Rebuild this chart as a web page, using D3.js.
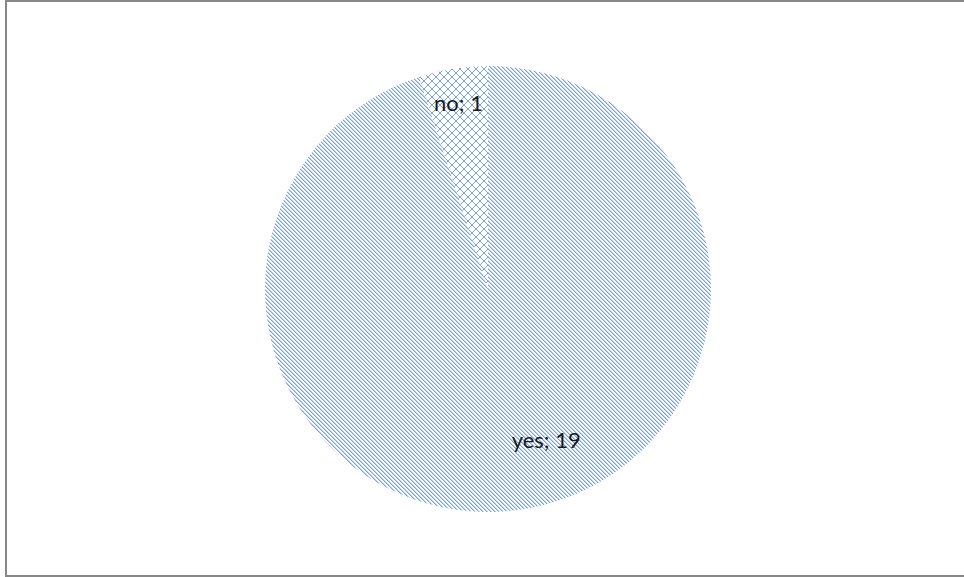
<!DOCTYPE html>
<html><head><meta charset="utf-8">
<script src="https://cdn.jsdelivr.net/npm/d3@7"></script>
<style>html,body{margin:0;padding:0;background:#fff;}svg{display:block;}</style>
</head><body>
<svg id="chart" width="964" height="577"></svg>
<script>
const categories = ["yes", "no"];
const values = [19, 1];
const patterns = ["stripe", "cross"];

const W = 964, H = 577;
const svg = d3.select("#chart");
const defs = svg.append("defs");
const dark = "#7aa2dc", light = "#bcd0ee";

// diagonal stripe: period 4px, pixel-aligned
const p1 = defs.append("pattern").attr("id", "stripe").attr("patternUnits", "userSpaceOnUse")
  .attr("width", 4).attr("height", 4);
p1.append("rect").attr("width", 4).attr("height", 4).attr("fill", "#fff");
d3.range(4).forEach(i => {
  p1.append("rect").attr("x", i).attr("y", i).attr("width", 1).attr("height", 1).attr("fill", dark).attr("shape-rendering", "crispEdges");
  p1.append("rect").attr("x", (i + 1) % 4).attr("y", i).attr("width", 1).attr("height", 1).attr("fill", light).attr("shape-rendering", "crispEdges");
});

// cross hatch: period 8px
const p2 = defs.append("pattern").attr("id", "cross").attr("patternUnits", "userSpaceOnUse")
  .attr("width", 8).attr("height", 8);
p2.append("rect").attr("width", 8).attr("height", 8).attr("fill", "#fff");
d3.range(8).forEach(i => {
  p2.append("rect").attr("x", i).attr("y", i).attr("width", 1).attr("height", 1).attr("fill", dark).attr("shape-rendering", "crispEdges");
  p2.append("rect").attr("x", 7 - i).attr("y", i).attr("width", 1).attr("height", 1).attr("fill", dark).attr("shape-rendering", "crispEdges");
});

// frame
svg.append("rect").attr("x", 6).attr("y", 1).attr("width", W + 10).attr("height", 575)
  .attr("fill", "none").attr("stroke", "#878787").attr("stroke-width", 2);

const cx = 488, cy = 289, r = 223;
const data = categories.map((c, i) => ({ cat: c, val: values[i], pat: patterns[i] }));
const pie = d3.pie().sort(null).value(d => d.val);
const arcs = pie(data);
const arc = d3.arc().innerRadius(0).outerRadius(r);

const g = svg.append("g").attr("transform", `translate(${cx},${cy})`);
g.selectAll("path.slice").data(arcs).enter().append("path")
  .attr("class", "slice")
  .attr("d", arc)
  .attr("fill", d => `url(#${d.data.pat})`);

// labels
const labelArcNo = d3.arc().innerRadius(r * 0.845).outerRadius(r * 0.845);
g.selectAll("text.lbl").data(arcs).enter().append("text")
  .attr("class", "lbl")
  .attr("transform", d => {
    let p;
    if (d.data.cat === "no") p = labelArcNo.centroid(d);
    else {
      const a = Math.PI * 0.883; // best-fit position inside slice
      p = [Math.sin(a) * r * 0.726, -Math.cos(a) * r * 0.726];
    }
    return `translate(${p[0]},${p[1]})`;
  })
  .attr("text-anchor", "middle")
  .attr("dy", "0.35em")
  .attr("font-family", "Lato, 'Open Sans', sans-serif")
  .attr("font-size", 22)
  .attr("fill", "#1a1a1a")
  .text(d => `${d.data.cat}; ${d.data.val}`);
</script>
</body></html>
